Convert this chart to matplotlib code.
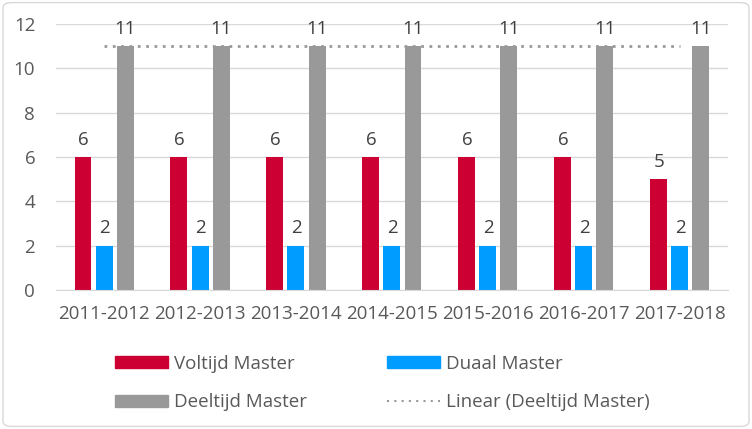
import matplotlib.pyplot as plt
import numpy as np
from matplotlib.patches import FancyBboxPatch
from matplotlib.lines import Line2D
from matplotlib.patches import Patch

plt.rcParams['font.family'] = ['Open Sans', 'DejaVu Sans']

years = ['2011-2012', '2012-2013', '2013-2014', '2014-2015', '2015-2016', '2016-2017', '2017-2018']
voltijd = [6, 6, 6, 6, 6, 6, 5]
duaal = [2, 2, 2, 2, 2, 2, 2]
deeltijd = [11, 11, 11, 11, 11, 11, 11]

red = '#CC0033'
blue = '#009CFF'
grey = '#999999'
txt = '#595959'

fig = plt.figure(figsize=(7.52, 4.29), dpi=100)
ax = fig.add_axes([0.0745, 0.324, 0.8935, 0.62])

x = np.arange(len(years))
w = 0.177
off = 0.219
b1 = ax.bar(x - off, voltijd, w, color=red)
b2 = ax.bar(x, duaal, w, color=blue)
b3 = ax.bar(x + off, deeltijd, w, color=grey)

for bars in (b1, b2, b3):
    for r in bars:
        ax.text(r.get_x() + r.get_width() / 2, r.get_height() + 0.38, f'{r.get_height():g}',
                ha='center', va='bottom', fontsize=13.5, color='#404040')

# linear trendline for Deeltijd Master
k, c = np.polyfit(x, deeltijd, 1)
ax.plot(x, k * x + c, color=grey, linestyle=(0, (1, 2)), linewidth=2)

ax.set_xlim(-0.5, len(years) - 0.5)
ax.set_ylim(0, 12)
ax.set_yticks(range(0, 13, 2))
ax.set_xticks(x)
ax.set_xticklabels(years)
ax.grid(axis='y', color='#D9D9D9', linewidth=1)
ax.set_axisbelow(True)
for s in ['top', 'right', 'left']:
    ax.spines[s].set_visible(False)
ax.spines['bottom'].set_color('#D9D9D9')
ax.tick_params(axis='both', length=0, labelsize=13.5, colors=txt)
ax.tick_params(axis='x', pad=11)
ax.tick_params(axis='y', pad=15)

handles = [Patch(color=red), Patch(color=grey), Patch(color=blue),
           Line2D([], [], color=grey, linestyle=(0, (1, 2.5)), linewidth=1.5)]
labels = ['Voltijd Master', 'Deeltijd Master', 'Duaal Master', 'Linear (Deeltijd Master)']
leg = fig.legend(handles, labels, ncol=2, loc='upper left', bbox_to_anchor=(0.153, 0.173),
                 frameon=False, fontsize=13.5, labelcolor=txt, handlelength=2.83, handleheight=0.57,
                 columnspacing=4.27, borderaxespad=0, borderpad=0, labelspacing=1.1,
                 handletextpad=0.32)

border = FancyBboxPatch((0.004, 0.006), 0.992, 0.988, boxstyle='round,pad=0,rounding_size=0.012',
                        transform=fig.transFigure, fill=False, edgecolor='#D9D9D9', linewidth=1)
fig.add_artist(border)

fig.savefig('out.png', dpi=100)
